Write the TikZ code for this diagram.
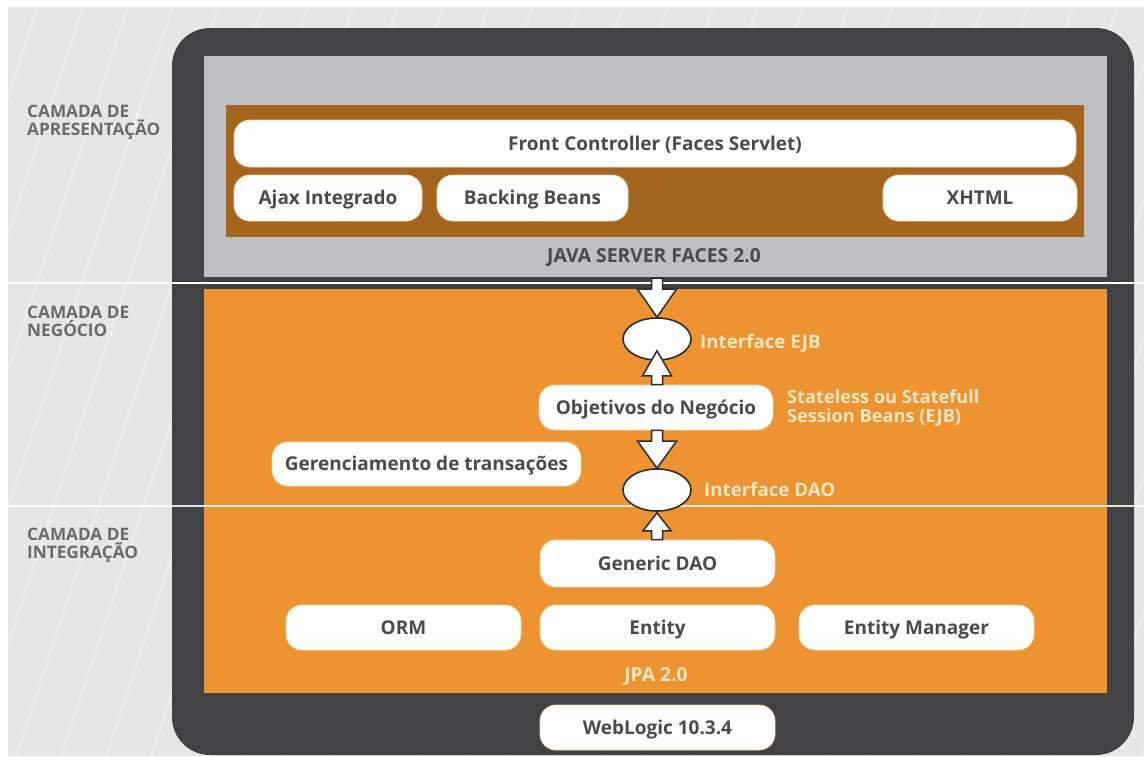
\documentclass[tikz,border=0pt]{standalone}
\usepackage{fontspec}
\setmainfont{Open Sans}
\usetikzlibrary{shapes.geometric,calc}
\definecolor{bggray}{HTML}{E6E6E7}
\definecolor{framec}{HTML}{424245}
\definecolor{panelgray}{HTML}{BDBFC2}
\definecolor{brownp}{HTML}{A5651F}
\definecolor{orangep}{HTML}{EE9331}
\definecolor{boxtext}{HTML}{4A4A4C}
\definecolor{boxedge}{HTML}{F3D9AE}
\definecolor{cream}{HTML}{FDE7C4}
\definecolor{leftlab}{HTML}{6B6B6E}
\definecolor{arrline}{HTML}{2B2B2D}
\newcommand{\blkdown}[4]{%
  \draw[blockarrow] let \p1=(#1), \p2=(#2) in
   (\x2-5.5pt,\y1) -- (\x2+5.5pt,\y1) -- (\x2+5.5pt,\y2+#4) -- (\x2+#3,\y2+#4)
   -- (\x2,\y2) -- (\x2-#3,\y2+#4) -- (\x2-5.5pt,\y2+#4) -- cycle;}
\newcommand{\blkup}[4]{%
  \draw[blockarrow] let \p1=(#1), \p2=(#2) in
   (\x2-5.5pt,\y1) -- (\x2+5.5pt,\y1) -- (\x2+5.5pt,\y2-#4) -- (\x2+#3,\y2-#4)
   -- (\x2,\y2) -- (\x2-#3,\y2-#4) -- (\x2-5.5pt,\y2-#4) -- cycle;}
\begin{document}
\begin{tikzpicture}[x=1pt,y=-1pt,
  wbox/.style={rectangle, rounded corners=16pt, fill=white, draw=boxedge, line width=0.8pt,
    inner sep=0pt, font=\bfseries\fontsize{19}{21}\selectfont, text=boxtext,
    text height=13.6pt, text depth=0pt},
  iface/.style={ellipse, fill=white, draw=arrline, line width=1.6pt, inner sep=0pt,
    minimum width=68pt, minimum height=42pt},
  blockarrow/.style={fill=white, draw=arrline, line width=1.5pt, line join=miter},
  laylabel/.style={anchor=north west, align=left, text=leftlab,
    font=\bfseries\fontsize{17.2}{17.5}\selectfont, inner sep=0pt},
  olabel/.style={text=cream, font=\bfseries\fontsize{18.7}{20}\selectfont, inner sep=0pt}
]
\useasboundingbox (0,0) rectangle (1144,756);
\fill[white] (0,0) rectangle (1144,756);
\fill[bggray] (8,7) rectangle (1144,756);
\begin{scope}
  \clip (8,7) rectangle (1144,756);
  \foreach \i in {-300,-255,...,1150} {
    \draw[white, opacity=0.35, line width=3pt] (\i,760) -- (\i+250,0);
  }
\end{scope}
% frame and panels
\fill[framec, rounded corners=38pt] (172,28) rectangle (1134,755);
\fill[panelgray] (204,56) rectangle (1107,277);
\fill[brownp] (226,105) rectangle (1084,237);
\fill[orangep] (204,289) rectangle (1107,693);
% layer separators
\draw[white, line width=2pt] (8,283) -- (1144,283);
\draw[white, opacity=0.85, line width=2pt] (8,506) -- (1144,506);
% layer labels
\node[laylabel] (lapres) at (27,105) {CAMADA DE\\APRESENTAÇÃO};
\node[laylabel] (lneg) at (27,306) {CAMADA DE\\NEGÓCIO};
\node[laylabel] (linteg) at (27,528) {CAMADA DE\\INTEGRAÇÃO};
% presentation
\node[wbox, minimum width=842pt, minimum height=47pt] (front) at (655,143.5) {Front Controller (Faces Servlet)};
\node[wbox, minimum width=188pt, minimum height=46pt] (ajax) at (328,198) {Ajax Integrado};
\node[wbox, minimum width=191pt, minimum height=46pt] (backing) at (532.5,198) {Backing Beans};
\node[wbox, minimum width=194pt, minimum height=46pt] (xhtml) at (980,198) {XHTML};
\node[text=boxtext, font=\bfseries\fontsize{19.3}{21}\selectfont, inner sep=0pt] (jsf) at (654,258) {JAVA SERVER FACES 2.0};
\coordinate (jsfbot) at (657,278);
% business
\node[iface] (ejb) at (657,339) {};
\node[olabel, anchor=west] (ejblab) at (700,343) {Interface EJB};
\node[wbox, minimum width=234pt, minimum height=45pt] (obj) at (656,407.5) {Objetivos do Negócio};
\node[olabel, anchor=north west, align=left, font=\bfseries\fontsize{18.2}{19.5}\selectfont] (sess) at (787,389) {Stateless ou Statefull\\Session Beans (EJB)};
\node[wbox, minimum width=309pt, minimum height=44pt] (trans) at (426.5,464) {Gerenciamento de transações};
\node[iface] (dao) at (657,490) {};
\node[olabel, anchor=west] (daolab) at (704,489) {Interface DAO};
% integration
\node[wbox, minimum width=235pt, minimum height=47pt] (gdao) at (657.5,563.5) {Generic DAO};
\node[wbox, minimum width=235pt, minimum height=45pt] (orm) at (403.5,627.5) {ORM};
\node[wbox, minimum width=235pt, minimum height=45pt] (entity) at (657.5,627.5) {Entity};
\node[wbox, minimum width=235pt, minimum height=45pt] (em) at (916.5,627.5) {Entity Manager};
\node[olabel, font=\bfseries\fontsize{19.3}{21}\selectfont] (jpa) at (656,677) {JPA 2.0};
\node[wbox, minimum width=235pt, minimum height=45pt] (wl) at (657.5,727.5) {WebLogic 10.3.4};
% block arrows
\blkdown{jsfbot}{ejb.north}{19.5pt}{28pt}
\blkup{obj.north}{[yshift=10pt]ejb.south}{14.5pt}{25pt}
\blkdown{obj.south}{dao.north}{19.5pt}{27pt}
\blkup{gdao.north}{[yshift=-1pt]dao.south}{14pt}{18pt}
\end{tikzpicture}
\end{document}
